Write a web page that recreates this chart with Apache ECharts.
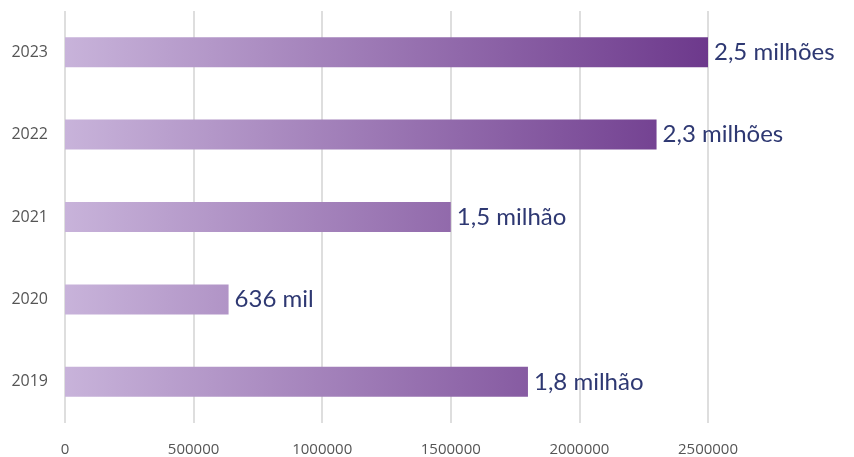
<!DOCTYPE html>
<html>
  <head>
    <meta charset="UTF-8" />
    <title></title>
    <style type="text/css">
      * {
        margin: 0;
        padding: 0;
      }
      #main {
        width: 854px;
        height: 457px;
        background-color: #fff;
      }
    </style>
  </head>
  <body>
    <div id="main"></div>
  </body>
  <script src="https://cdn.jsdelivr.net/npm/echarts@6/dist/echarts.min.js"></script>
  <script type="text/javascript">
    // anos (de baixo para cima)
    var years = ['2019', '2020', '2021', '2022', '2023']
    var values = [1800000, 636000, 1500000, 2300000, 2500000]
    var labels = ['1,8 milhão', '636 mil', '1,5 milhão', '2,3 milhões', '2,5 milhões']
    var ticks = [0, 500000, 1000000, 1500000, 2000000, 2500000]

    var gridLeft = 65
    var gridRight = 146

    var myCharts = echarts.init(document.getElementById('main'))
    var option = {
      animation: false,
      grid: {
        left: gridLeft,
        right: gridRight,
        top: 11,
        bottom: 31
      },
      xAxis: {
        type: 'value',
        min: ticks[0],
        max: ticks[ticks.length - 1],
        interval: 500000,
        axisLine: { show: false },
        axisTick: { show: false },
        splitLine: {
          lineStyle: { color: '#dedede', width: 2 }
        },
        axisLabel: {
          color: '#555',
          fontSize: 15,
          fontFamily: 'Open Sans',
          margin: 19,
          formatter: function (v) {
            return String(v)
          }
        }
      },
      yAxis: {
        type: 'category',
        data: years,
        axisLine: { show: false },
        axisTick: { show: false },
        axisLabel: {
          color: '#555',
          fontSize: 16,
          fontFamily: 'Open Sans',
          margin: 17
        }
      },
      series: [
        {
          type: 'bar',
          data: values,
          barWidth: 30,
          itemStyle: {
            color: new echarts.graphic.LinearGradient(
              gridLeft, 0, 854 - gridRight, 0,
              [
                { offset: 0, color: '#c8b3da' },
                { offset: 1, color: '#6d398c' }
              ],
              true
            )
          },
          label: {
            show: true,
            position: 'right',
            distance: 6,
            color: '#2e3872',
            fontSize: 24,
            fontFamily: 'Lato',
            formatter: function (p) {
              return labels[p.dataIndex]
            }
          }
        }
      ]
    }
    myCharts.setOption(option)
  </script>
</html>
